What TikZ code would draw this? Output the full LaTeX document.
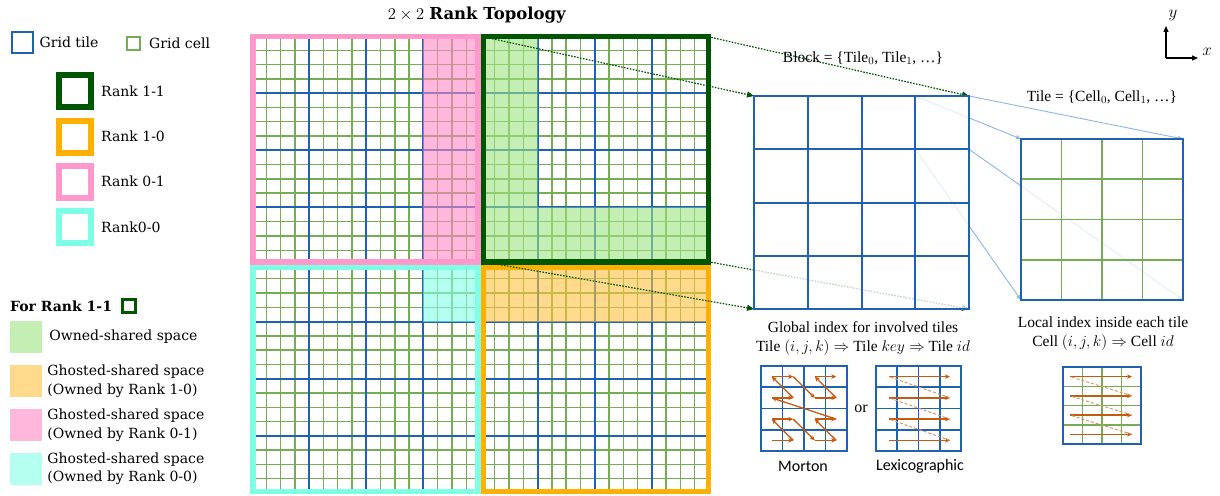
\RequirePackage{fix-cm}
\documentclass[tikz,border=0pt]{standalone}
\usepackage{fontspec}
\setmainfont{DejaVu Serif}
\newfontfamily\cambria{Liberation Serif}
\newfontfamily\calibri{Carlito}
\usetikzlibrary{positioning,calc,arrows.meta}

\definecolor{tileblue}{RGB}{31,98,178}
\definecolor{cellgreen}{RGB}{118,172,84}
\definecolor{rankOneOne}{RGB}{0,85,0}
\definecolor{rankOneZero}{RGB}{255,176,0}
\definecolor{rankZeroOne}{RGB}{255,153,204}
\definecolor{rankZeroZero}{RGB}{127,255,230}
\definecolor{ownedgreen}{RGB}{158,227,130}
\definecolor{ghostorange}{RGB}{255,193,63}
\definecolor{ghostpink}{RGB}{255,135,197}
\definecolor{ghostcyan}{RGB}{130,255,230}
\definecolor{zoomblue}{RGB}{140,182,226}
\definecolor{idxorange}{RGB}{197,90,17}

\newcommand{\fsz}[2]{\fontsize{#1}{#2}\selectfont}

\begin{document}
\begin{tikzpicture}[x=1pt, y=-1pt, >=Stealth,
  cellline/.style={draw=cellgreen, line width=1.4pt},
  tileline/.style={draw=tileblue, line width=2pt},
  rankframe/.style={draw=#1, line width=5.5pt, outer sep=0pt, inner sep=0pt, minimum width=225pt, minimum height=225pt},
  spacefill/.style={fill=#1, fill opacity=.6},
  ranksq/.style={draw=#1, line width=6pt, minimum size=32pt, inner sep=0pt},
  keysq/.style={spacefill=#1, minimum size=32pt, inner sep=0pt},
  legtext/.style={inner sep=2pt, font=\fsz{14}{18.5}, align=left},
  box/.style={inner sep=0pt, outer sep=0pt, minimum width=#1},
  zoomline/.style={draw=rankOneOne, line width=1.2pt, dash pattern=on 1.6pt off 1.4pt, -{Triangle[length=7pt,width=6pt]}},
  tilezoom/.style={draw=zoomblue, line width=.9pt, -{Triangle[length=5pt,width=4pt]}},
  idxarrow/.style={draw=idxorange, line width=1.3pt, -{Stealth[length=5pt,width=4.5pt]}},
  idxjump/.style={draw=idxorange!65, line width=1pt, dash pattern=on 3pt off 2pt},
  rtext/.style={inner sep=1pt, font=\cambria\fsz{15.5}{19}, align=center}]
\useasboundingbox (0,0) rectangle (1220,495);

% legend
\node[draw=tileblue, line width=2pt, minimum size=21pt, inner sep=0pt] (gtile) at (22,42.5) {};
\node[legtext, right=4pt of gtile] (gtilelab) {Grid tile};
\node[draw=cellgreen, line width=2pt, minimum size=13pt, inner sep=0pt] (gcell) at (133,43.5) {};
\node[legtext, right=6.5pt of gcell] (gcelllab) {Grid cell};
\node[ranksq=rankOneOne] (r11) at (75,91) {};
\node[legtext, right=5pt of r11] (r11lab) {Rank 1-1};
\node[ranksq=rankOneZero] (r10) at (75,136.5) {};
\node[legtext, right=5pt of r10] (r10lab) {Rank 1-0};
\node[ranksq=rankZeroOne] (r01) at (75,181.5) {};
\node[legtext, right=5pt of r01] (r01lab) {Rank 0-1};
\node[ranksq=rankZeroZero] (r00) at (75,227) {};
\node[legtext, right=5pt of r00] (r00lab) {Rank0-0};

\node[legtext, font=\bfseries\fsz{14}{17}, anchor=west] (forrank) at (8,306) {For Rank 1-1};
\node[draw=rankOneOne, line width=2.5pt, minimum size=13pt, inner sep=0pt, right=7pt of forrank] (forsq) {};
\node[keysq=ownedgreen] (kown) at (26,337) {};
\node[legtext, right=5pt of kown] (kownlab) {Owned-shared space};
\node[keysq=ghostorange] (kor) at (26,381) {};
\node[legtext, right=3pt of kor] (korlab) {Ghosted-shared space\\(Owned by Rank 1-0)};
\node[keysq=ghostpink] (kpi) at (26,425) {};
\node[legtext, right=3pt of kpi] (kpilab) {Ghosted-shared space\\(Owned by Rank 0-1)};
\node[keysq=ghostcyan] (kcy) at (26,468.5) {};
\node[legtext, right=3pt of kcy] (kcylab) {Ghosted-shared space\\(Owned by Rank 0-0)};

% 2x2 ranks
\node[font=\fsz{16.5}{20}] (title) at (477,15) {$2\times2$ \textbf{Rank Topology}};
\foreach \i in {0,...,32}{
  \draw[cellline] ({252+\i*14.28},36) -- ({252+\i*14.28},493);
  \draw[cellline] (252,{36+\i*14.28}) -- (709,{36+\i*14.28});
}
\foreach \i in {0,...,8}{
  \draw[tileline] ({252+\i*57.12},36) -- ({252+\i*57.12},493);
  \draw[tileline] (252,{36+\i*57.12}) -- (709,{36+\i*57.12});
}
\fill[spacefill=ghostpink] (423.4,36) rectangle (480.5,264.5);
\fill[spacefill=ownedgreen] (480.5,36) rectangle (537.6,264.5) (537.6,207.4) rectangle (709,264.5);
\fill[spacefill=ghostorange] (480.5,264.5) rectangle (709,321.6);
\fill[spacefill=ghostcyan] (423.4,264.5) rectangle (480.5,321.6);
\node[rankframe=rankZeroOne] (q01) at (365.25,149.25) {};
\node[rankframe=rankZeroZero, minimum height=224pt] (q00) at (365.25,379.25) {};
\node[rankframe=rankOneZero, minimum height=224pt] (q10) at (595.75,379.25) {};
\node[rankframe=rankOneOne] (q11) at (595.75,149.25) {};

% block and tile
\node[box=215pt, minimum height=213pt] (block) at (861.5,202.5) {};
\node[box=53.75pt, minimum height=53.25pt, anchor=north east] (btile) at (block.north east) {};
\node[box=162pt, minimum height=161pt] (tilez) at (1102,219.5) {};
\draw[zoomline] (q11.north west) -- (block.north west);
\draw[zoomline] (q11.north east) -- (block.north east);
\draw[zoomline] (q11.south west) -- (block.south west);
\draw[zoomline] (q11.south east) -- (block.south east);
\draw[tilezoom] (btile.north west) -- (tilez.north west);
\draw[tilezoom] (btile.north east) -- (tilez.north east);
\draw[tilezoom] (btile.south west) -- (tilez.south west);
\draw[tilezoom] (btile.south east) -- (tilez.south east);
\fill[white, opacity=.75] (block.north west) rectangle (block.south east);
\fill[white, opacity=.75] (tilez.north west) rectangle (tilez.south east);
\foreach \i in {1,2,3}{
  \draw[tileline] ($(block.north west)!\i/4!(block.north east)$) -- ($(block.south west)!\i/4!(block.south east)$);
  \draw[tileline] ($(block.north west)!\i/4!(block.south west)$) -- ($(block.north east)!\i/4!(block.south east)$);
  \draw[cellline, line width=1.8pt] ($(tilez.north west)!\i/4!(tilez.north east)$) -- ($(tilez.south west)!\i/4!(tilez.south east)$);
  \draw[cellline, line width=1.8pt] ($(tilez.north west)!\i/4!(tilez.south west)$) -- ($(tilez.north east)!\i/4!(tilez.south east)$);
}
\draw[tileline] (block.north west) rectangle (block.south east);
\draw[tileline, line width=2.5pt] (tilez.north west) rectangle (tilez.south east);
\node[rtext] (blocklab) at (863,58) {Block = \{Tile$_0$, Tile$_1$, \ldots\}};
\node[rtext] (tilelab) at (1102,97) {Tile = \{Cell$_0$, Cell$_1$, \ldots\}};

% index orders
\node[rtext] (globlab) at (863,338.5) {Global index for involved tiles\\Tile $(i,j,k)\Rightarrow$ Tile $key\Rightarrow$ Tile $id$};
\node[rtext] (loclab) at (1103,334) {Local index inside each tile\\Cell $(i,j,k)\Rightarrow$ Cell $id$};
\node[box=86pt, minimum height=85pt] (morton) at (804,408.5) {};
\node[box=85pt, minimum height=85pt] (lexi) at (918.5,408.5) {};
\node[box=78pt, minimum height=77pt] (cellidx) at (1102,405.5) {};
\foreach \i in {1,2,3}{
  \draw[tileline, line width=1.8pt] ($(morton.north west)!\i/4!(morton.north east)$) -- ($(morton.south west)!\i/4!(morton.south east)$);
  \draw[tileline, line width=1.8pt] ($(morton.north west)!\i/4!(morton.south west)$) -- ($(morton.north east)!\i/4!(morton.south east)$);
  \draw[tileline, line width=1.8pt] ($(lexi.north west)!\i/4!(lexi.north east)$) -- ($(lexi.south west)!\i/4!(lexi.south east)$);
  \draw[tileline, line width=1.8pt] ($(lexi.north west)!\i/4!(lexi.south west)$) -- ($(lexi.north east)!\i/4!(lexi.south east)$);
  \draw[cellline, line width=1.5pt] ($(cellidx.north west)!\i/4!(cellidx.north east)$) -- ($(cellidx.south west)!\i/4!(cellidx.south east)$);
  \draw[cellline, line width=1.5pt] ($(cellidx.north west)!\i/4!(cellidx.south west)$) -- ($(cellidx.north east)!\i/4!(cellidx.south east)$);
}
\draw[tileline, line width=1.8pt] (morton.north west) rectangle (morton.south east);
\draw[tileline, line width=1.8pt] (lexi.north west) rectangle (lexi.south east);
\draw[tileline, line width=2pt] (cellidx.north west) rectangle (cellidx.south east);
\foreach \c in {0,...,3}
  \foreach \r in {0,...,3}
    \coordinate (m\c\r) at ($(morton.south west)+({(\c+.5)*21.5},{-(\r+.5)*21.25})$);
\foreach \p/\q in {00/10, 10/01, 01/11, 11/20, 20/30, 30/21, 21/31, 31/02,
                   02/12, 12/03, 03/13, 13/22, 22/32, 32/23, 23/33}
  \draw[idxarrow] (m\p) -- (m\q);
\foreach \r in {0,...,3}{
  \coordinate (ls\r) at ($(lexi.south west)+(13,{-(\r+.5)*21.25})$);
  \coordinate (le\r) at ($(lexi.south west)+(74,{-(\r+.5)*21.25})$);
  \coordinate (cs\r) at ($(cellidx.south west)+(7,{-(\r+.5)*19.25})$);
  \coordinate (ce\r) at ($(cellidx.south west)+(69,{-(\r+.5)*19.25})$);
  \draw[idxarrow] (ls\r) -- (le\r);
  \draw[idxarrow] (cs\r) -- (ce\r);
}
\foreach \r/\s in {0/1, 1/2, 2/3}{
  \draw[idxjump] (le\r) -- (ls\s);
  \draw[idxjump] (ce\r) -- (cs\s);
}
\node[rtext, font=\cambria\fsz{16}{19}] (orlab) at (861,409) {or};
\node[font=\calibri\fsz{16}{19}] (mortonlab) at (803,466) {Morton};
\node[font=\calibri\fsz{16}{19}] (lexilab) at (920,466) {Lexicographic};

% axes
\coordinate (axo) at (1166,58);
\coordinate (axy) at (1166,26);
\coordinate (axx) at (1198,58);
\draw[line width=1.2pt, -{Triangle[length=6pt,width=5pt]}] (axo) -- (axy);
\draw[line width=1.2pt, -{Triangle[length=6pt,width=5pt]}] (axo) -- (axx);
\node[font=\fsz{17}{20}] (ylab) at (1173,15) {$y$};
\node[font=\fsz{17}{20}] (xlab) at (1207,52) {$x$};
\end{tikzpicture}
\end{document}
